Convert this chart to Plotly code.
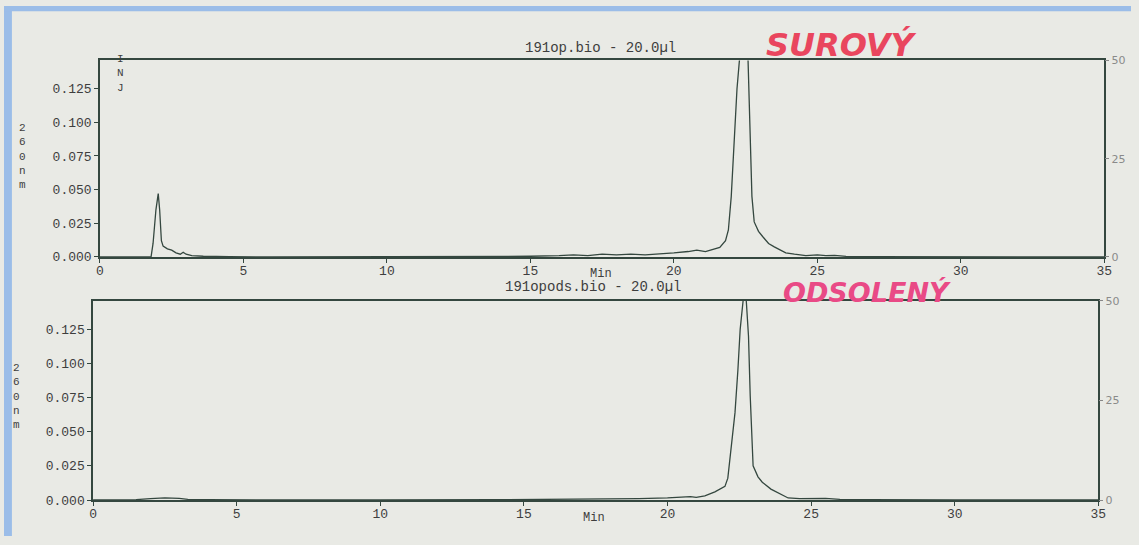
import plotly.graph_objects as go

W, H = 1139, 545

# ---- data ----
time_raw = [0, 1.78, 1.85, 1.95, 2.03, 2.08, 2.14, 2.2, 2.35, 2.5, 2.65, 2.8, 2.9, 3.0, 3.2, 3.6, 4.5,
            6.0, 10.0, 13.0, 15.0, 16.0, 16.5, 17.0, 17.5, 18.0, 18.5, 19.0, 19.5, 20.0, 20.5, 20.8,
            21.1, 21.4, 21.6, 21.8, 21.9, 22.0, 22.1, 22.2, 22.3, 22.45, 22.58, 22.65, 22.72, 22.8,
            22.95, 23.1, 23.3, 23.5, 23.7, 23.9, 24.2, 24.6, 25.0, 25.3, 25.6, 26.0, 27.0, 30.0, 35.0]
abs_raw = [0, 0, 0.010, 0.035, 0.047, 0.035, 0.012, 0.008, 0.006, 0.005, 0.003, 0.002, 0.0035, 0.002,
           0.001, 0.0005, 0.0002, 0, 0.0002, 0.0003, 0.0005, 0.001, 0.0015, 0.001, 0.002, 0.0015,
           0.002, 0.0015, 0.002, 0.003, 0.004, 0.005, 0.004, 0.006, 0.007, 0.012, 0.020, 0.045,
           0.088, 0.125, 0.150, 0.300, 0.150, 0.088, 0.045, 0.026, 0.019, 0.015, 0.010, 0.0075,
           0.005, 0.003, 0.002, 0.001, 0.0015, 0.001, 0.0012, 0.0004, 0.0002, 0, 0]

time_desalted = [0, 1.5, 2.0, 2.5, 3.0, 3.3, 4.0, 6.0, 10.0, 14.0, 17.0, 19.0, 20.0, 20.5, 20.8, 21.0,
                 21.3, 21.65, 22.0, 22.1, 22.35, 22.45, 22.53, 22.7, 22.82, 22.88, 22.98, 23.15, 23.3,
                 23.6, 23.86, 24.2, 24.6, 25.0, 25.5, 26.0, 27.0, 30.0, 35.0]
abs_desalted = [0, 0.0003, 0.001, 0.0015, 0.0012, 0.0005, 0.0002, 0, 0, 0.0002, 0.0005, 0.001, 0.0015,
                0.002, 0.0025, 0.002, 0.003, 0.006, 0.010, 0.016, 0.064, 0.095, 0.125, 0.160, 0.120,
                0.076, 0.025, 0.017, 0.013, 0.008, 0.005, 0.0015, 0.001, 0.001, 0.0012, 0.0005,
                0.0002, 0, 0]

x_ticks = [0, 5, 10, 15, 20, 25, 30, 35]
y_ticks = [0.0, 0.025, 0.05, 0.075, 0.1, 0.125]
right_ticks = [0, 25, 50]

title_raw = "191op.bio - 20.0µl"
title_desalted = "191opods.bio - 20.0µl"
note_raw = "SUROVÝ"
note_desalted = "ODSOLENÝ"
x_title = "Min"
y_title = "260nm"
inj_label = "INJ"

# ---- styling ----
PAPER = "#E9EAE5"
INK = "#34473F"
TXT = "#3E3E3E"
RED_PINK = "#E9465E"
MAGENTA_PINK = "#E94A86"
MONO = "Liberation Mono, Courier New, monospace"

def px(x):
    return x / W

def py(y):
    return (H - y) / H

fig = go.Figure()
fig.add_trace(go.Scatter(x=time_raw, y=abs_raw, mode="lines", xaxis="x", yaxis="y",
                         line=dict(color=INK, width=1.3), showlegend=False, hoverinfo="skip"))
fig.add_trace(go.Scatter(x=time_desalted, y=abs_desalted, mode="lines", xaxis="x2", yaxis="y2",
                         line=dict(color=INK, width=1.3), showlegend=False, hoverinfo="skip"))
# invisible carriers so the right-hand (0-50) scales get drawn
for ya, xa in (("y3", "x"), ("y4", "x2")):
    fig.add_trace(go.Scatter(x=[x_ticks[0]] * len(right_ticks), y=right_ticks, mode="markers",
                             xaxis=xa, yaxis=ya, marker=dict(opacity=0, size=1),
                             showlegend=False, hoverinfo="skip"))

axis_common = dict(showgrid=False, zeroline=False, showline=True, linecolor=INK, linewidth=1.5,
                   ticks="outside", ticklen=4, tickcolor=INK, tickwidth=1.2,
                   tickfont=dict(family=MONO, size=13, color=TXT))

right_common = dict(showgrid=False, zeroline=False, showline=False, ticks="outside", ticklen=4,
                    tickcolor="#888", tickwidth=1, range=[0, 50], tickvals=right_ticks,
                    tickfont=dict(family="DejaVu Sans", size=11, color="#8A8A8A"))

xd1 = [px(97), px(1112)]
xd2 = [px(90), px(1106)]
yd1 = [py(258), py(56)]
yd2 = [py(508), py(303)]

fig.update_layout(
    width=W, height=H,
    margin=dict(l=0, r=0, t=0, b=0),
    paper_bgcolor=PAPER, plot_bgcolor=PAPER,
    xaxis=dict(domain=xd1, anchor="y", range=[0, 35], tickvals=x_ticks, mirror=True,
               ticklabelstandoff=-3, **axis_common),
    yaxis=dict(domain=yd1, anchor="x", range=[0, 0.146], tickvals=y_ticks, tickformat=".3f",
               mirror=True, **axis_common),
    yaxis3=dict(overlaying="y", side="right", anchor="x", **right_common),
    xaxis2=dict(domain=xd2, anchor="y2", range=[0, 35], tickvals=x_ticks, mirror=True,
                ticklabelstandoff=-3, **axis_common),
    yaxis2=dict(domain=yd2, anchor="x2", range=[0, 0.146], tickvals=y_ticks, tickformat=".3f",
                mirror=True, **axis_common),
    yaxis4=dict(overlaying="y2", side="right", anchor="x2", **right_common),
    shapes=[
        dict(type="rect", xref="paper", yref="paper", x0=0, x1=px(8), y0=0, y1=1,
             fillcolor="#9BBDE8", line=dict(width=0), layer="above"),
        dict(type="rect", xref="paper", yref="paper", x0=0, x1=1, y0=py(5.5), y1=1,
             fillcolor="#9BBDE8", line=dict(width=0), layer="above"),
    ],
)

def ann(text, x, y, size=14, color=TXT, family=MONO, **kw):
    fig.add_annotation(text=text, x=px(x), y=py(y), xref="paper", yref="paper",
                       showarrow=False, xanchor="center", yanchor="middle",
                       font=dict(family=family, size=size, color=color), **kw)

ann(title_raw, 603, 43, size=14)
ann(title_desalted, 595, 289, size=14)
ann(x_title, 603, 276, size=12)
ann(x_title, 596, 527, size=12)
ann("<br>".join(y_title), 19, 155, size=11)
ann("<br>".join(y_title), 13, 402, size=11)
ann("<br>".join(inj_label), 118, 69, size=11)
ann("<i><b>" + note_raw + "</b></i>", 846, 40, size=32, color=RED_PINK, family="DejaVu Sans")
ann("<i><b>" + note_desalted + "</b></i>", 872, 295, size=27, color=MAGENTA_PINK, family="DejaVu Sans",
    borderpad=0)

fig.write_html("out.html", config={"displayModeBar": False},
               post_script="document.body.style.margin='0';document.body.style.overflow='hidden';")
